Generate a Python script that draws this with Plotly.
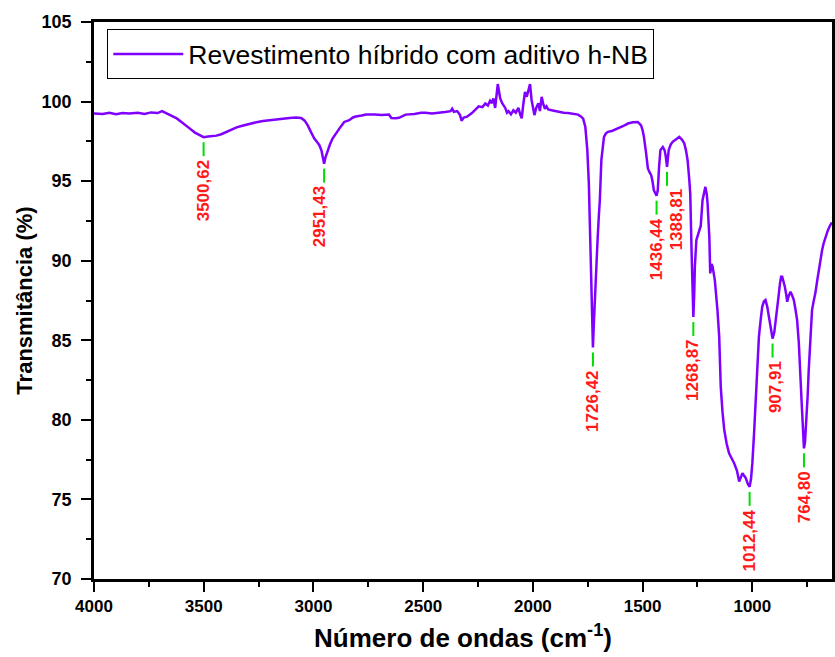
import plotly.graph_objects as go

# FTIR spectrum: wavenumber (cm-1) and transmittance (%)
wavenumber = [
    4000, 3960, 3930, 3900, 3870, 3840, 3800, 3770, 3740, 3710, 3690, 3670, 3650, 3623,
    3600, 3580, 3563, 3540, 3517, 3500.62, 3480, 3460, 3442, 3420, 3400, 3381, 3350, 3320,
    3291, 3260, 3230, 3200, 3170, 3140, 3109, 3080, 3056, 3040, 3026, 3010, 2996, 2980,
    2973, 2963, 2958, 2951.43, 2945, 2935, 2925, 2913, 2898, 2882, 2860, 2837, 2820, 2807,
    2780, 2761, 2720, 2690, 2656, 2645, 2625, 2610, 2580, 2540, 2510, 2489, 2460, 2429,
    2400, 2375, 2368, 2360, 2345, 2332, 2325, 2315, 2300, 2278, 2260, 2247, 2230, 2217,
    2205, 2195, 2187, 2180, 2172, 2165, 2160, 2154, 2149, 2140, 2126, 2118, 2111, 2100,
    2089, 2078, 2066, 2058, 2051, 2044, 2036, 2028, 2020, 2013, 2006, 1998, 1993, 1985,
    1975, 1968, 1960, 1952, 1945, 1938, 1930, 1915, 1900, 1884, 1860, 1840, 1824, 1805,
    1794, 1780, 1771, 1761, 1752, 1745, 1739, 1733, 1729, 1726.42, 1723, 1718, 1712, 1706,
    1700, 1695, 1688, 1682, 1676, 1667, 1658, 1640, 1612, 1590, 1567, 1545, 1522, 1507,
    1500, 1494, 1484, 1476, 1468, 1461, 1455, 1449, 1436.44, 1431, 1425, 1419, 1408, 1400,
    1395, 1388.81, 1381, 1372, 1363, 1348, 1333, 1320, 1310, 1302, 1295, 1288, 1283, 1277,
    1272, 1268.87, 1265, 1262, 1255, 1250, 1242, 1235, 1227, 1220, 1214, 1208, 1204, 1196,
    1192, 1186, 1181, 1171, 1165, 1159, 1151, 1144, 1136, 1128, 1117, 1106, 1095, 1083,
    1070, 1060, 1052, 1045, 1038, 1030, 1020, 1012.44, 1006, 1000, 992, 985, 977, 970,
    962, 955, 947, 940, 932, 924, 915, 907.91, 900, 890, 882, 874, 869, 864,
    858, 852, 846, 841, 834, 826, 818, 811, 803, 796, 788, 781, 775, 769,
    764.80, 760, 754, 748, 743, 735, 728, 720, 713, 705, 697, 690, 682, 675,
    667, 656, 645, 637,
]
transmittance = [
    99.25, 99.22, 99.30, 99.20, 99.28, 99.25, 99.30, 99.22, 99.32, 99.28, 99.40, 99.25, 99.15, 98.94,
    98.70, 98.45, 98.30, 98.05, 97.90, 97.76, 97.80, 97.82, 97.86, 97.95, 98.08, 98.20, 98.38, 98.50,
    98.62, 98.70, 98.78, 98.83, 98.88, 98.95, 98.97, 99.00, 98.97, 98.80, 98.50, 98.05, 97.68, 97.40,
    97.26, 96.90, 96.63, 96.10, 96.50, 96.95, 97.30, 97.68, 98.00, 98.30, 98.72, 98.83, 99.00, 99.06,
    99.12, 99.18, 99.18, 99.15, 99.18, 98.97, 98.95, 98.98, 99.18, 99.22, 99.30, 99.30, 99.25, 99.28,
    99.35, 99.40, 99.55, 99.35, 99.40, 99.15, 98.80, 99.00, 99.05, 99.28, 99.50, 99.70, 99.65, 99.88,
    99.75, 100.05, 99.90, 100.20, 99.60, 100.30, 101.10, 100.60, 100.20, 99.90, 99.60, 99.30, 99.40, 99.20,
    99.45, 99.30, 99.60, 99.20, 98.95, 99.80, 100.60, 100.30, 100.80, 101.10, 100.10, 99.50, 99.15, 99.60,
    99.90, 99.40, 100.30, 99.80, 99.55, 99.70, 99.50, 99.45, 99.40, 99.35, 99.30, 99.28, 99.25, 99.20,
    99.18, 99.05, 98.93, 98.40, 96.95, 94.86, 91.72, 87.74, 85.60, 84.55, 85.80, 87.10, 89.30, 91.09,
    92.70, 93.80, 96.32, 97.20, 97.78, 98.00, 98.10, 98.15, 98.30, 98.45, 98.62, 98.70, 98.72, 98.50,
    98.20, 97.78, 96.74, 95.80, 95.55, 95.38, 95.00, 94.43, 94.09, 94.43, 95.90, 96.95, 97.15, 96.95,
    96.60, 95.90, 96.95, 97.30, 97.47, 97.65, 97.78, 97.60, 97.37, 96.90, 96.32, 95.20, 94.23, 90.67,
    87.50, 86.46, 87.80, 89.62, 91.30, 91.50, 91.92, 92.20, 93.80, 94.40, 94.64, 94.20, 93.60, 91.50,
    89.20, 89.80, 89.62, 88.78, 87.90, 86.90, 85.23, 82.09, 80.50, 79.37, 78.50, 77.90, 77.60, 77.28,
    76.80, 76.12, 76.40, 76.65, 76.50, 76.34, 75.95, 75.79, 76.30, 77.28, 79.20, 81.05, 83.30, 85.23,
    86.30, 87.10, 87.45, 87.53, 87.10, 86.48, 85.60, 85.11, 85.50, 86.48, 87.60, 88.58, 88.99, 88.99,
    88.70, 88.37, 87.90, 87.42, 87.80, 88.05, 87.80, 87.53, 86.90, 86.27, 84.80, 83.14, 81.00, 79.37,
    78.21, 78.60, 79.80, 81.50, 83.14, 85.30, 86.90, 87.50, 87.95, 88.70, 89.41, 90.10, 90.67, 91.10,
    91.50, 91.90, 92.24, 92.40,
]

# Labelled absorption bands
peak_wavenumber = [3500.62, 2951.43, 1726.42, 1436.44, 1388.81, 1268.87, 1012.44, 907.91, 764.80]
peak_transmittance = [97.76, 96.10, 84.55, 94.09, 95.90, 86.46, 75.79, 85.11, 78.21]
# horizontal nudge (px) of each band label so neighbouring labels stay apart
peak_label_shift = [0, -5, 0, 0, 9, -1, 0, 3, 0]

series_name = "Revestimento híbrido com aditivo h-NB"
x_title = "Número de ondas (cm<sup>-1</sup>)"
y_title = "Transmitância (%)"

FONT = "Arial, Liberation Sans, sans-serif"
LINE_COLOR = "#7f00ff"

fig = go.Figure()
fig.add_trace(go.Scatter(
    x=wavenumber, y=transmittance, mode="lines", name=series_name,
    line=dict(color=LINE_COLOR, width=2.5),
))

for wn, t, dx in zip(peak_wavenumber, peak_transmittance, peak_label_shift):
    # short green drop line under each band minimum
    fig.add_shape(
        type="line", xref="x", yref="y", ysizemode="pixel", yanchor=t,
        x0=wn, x1=wn, y0=-5, y1=-19,
        line=dict(color="#00dd00", width=2),
    )
    fig.add_annotation(
        x=wn, y=t, xref="x", yref="y", text=f"{wn:.2f}".replace(".", ","),
        textangle=-90, showarrow=False, yanchor="top", xanchor="center",
        yshift=-21, xshift=dx,
        font=dict(family=FONT, size=17, color="#ff1a1a", weight="bold"),
    )

axis_common = dict(
    showline=True, linecolor="black", linewidth=2.5, mirror=True,
    ticks="outside", ticklen=10, tickwidth=2, tickcolor="black",
    showgrid=False, zeroline=False,
)

fig.update_xaxes(
    range=[4000, 637], tick0=0, dtick=500,
    minor=dict(ticks="outside", ticklen=5, tickwidth=2, tickcolor="black", dtick=250),
    tickfont=dict(family=FONT, size=17, color="black", weight="bold"),
    title=dict(text=x_title, standoff=14,
               font=dict(family=FONT, size=26, color="black", weight="bold")),
    **axis_common,
)
fig.update_yaxes(
    range=[70, 105], tick0=0, dtick=5,
    minor=dict(ticks="outside", ticklen=5, tickwidth=2, tickcolor="black", dtick=2.5),
    tickfont=dict(family=FONT, size=18, color="black", weight="bold"),
    ticklabelstandoff=6,
    title=dict(text=y_title, standoff=3,
               font=dict(family=FONT, size=22, color="black", weight="bold")),
    **axis_common,
)

fig.update_layout(
    width=835, height=657,
    margin=dict(l=94, r=0, t=22, b=78),
    paper_bgcolor="white", plot_bgcolor="white",
    showlegend=True,
    legend=dict(
        x=0.018, y=0.987, xanchor="left", yanchor="top",
        bgcolor="white", bordercolor="black", borderwidth=1,
        font=dict(family=FONT, size=26.5, color="black"),
        itemwidth=70,
    ),
)

fig.write_html("out.html")
